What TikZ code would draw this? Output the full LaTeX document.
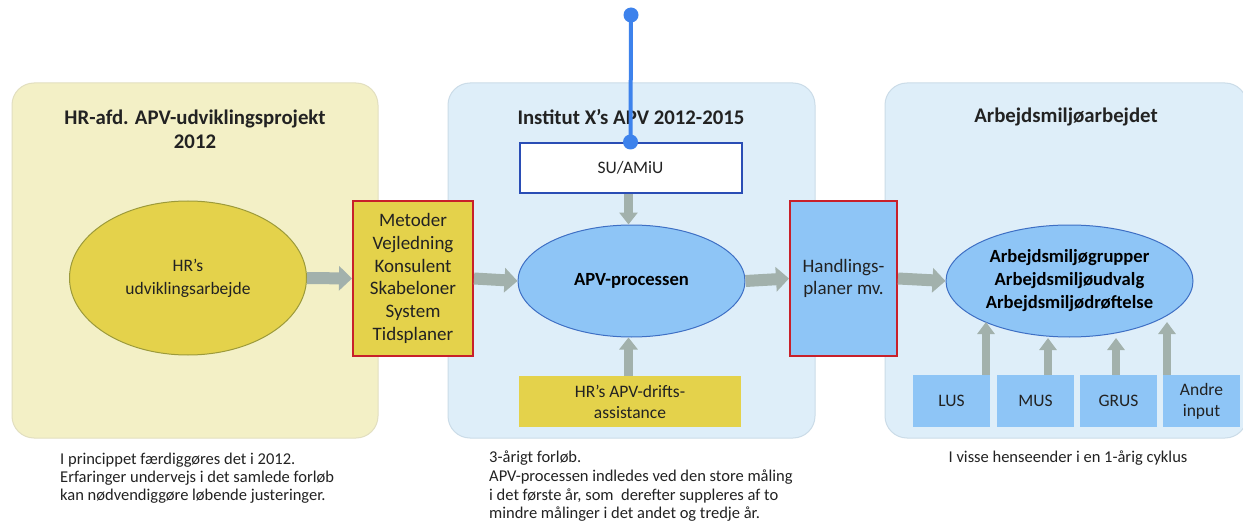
\documentclass[tikz,border=0pt]{standalone}
\usepackage{fontspec}
\setmainfont{Carlito}
\usetikzlibrary{shapes.geometric,arrows.meta}
\definecolor{panelyellow}{HTML}{F3F0C6}
\definecolor{panelyellowline}{HTML}{E2DFC0}
\definecolor{panelblue}{HTML}{DEEEF9}
\definecolor{panelblueline}{HTML}{CBDCE8}
\definecolor{boxyellow}{HTML}{E4D24B}
\definecolor{olive}{HTML}{9C9A3A}
\definecolor{boxblue}{HTML}{8EC5F6}
\definecolor{ellblue}{HTML}{3E6FC4}
\definecolor{redline}{HTML}{C8202A}
\definecolor{arrowgray}{HTML}{A2B1AC}
\definecolor{suline}{HTML}{2A4DB5}
\definecolor{lineblue}{HTML}{3D82EC}
\definecolor{txt}{HTML}{222222}
\tikzset{
  panel/.style={draw, line width=1pt, rounded corners=22pt, inner sep=0pt},
  titletext/.style={text=txt, align=center, font=\fontsize{20.8}{24}\selectfont\bfseries},
  body/.style={text=txt, align=center, font=\fontsize{17.5}{22.7}\selectfont},
  bigbody/.style={text=txt, align=center, font=\fontsize{19}{22.7}\selectfont},
  boldbody/.style={text=black, align=center, font=\fontsize{18.6}{23}\selectfont\bfseries},
  note/.style={text=txt, align=left, font=\fontsize{16.5}{18}\selectfont, inner sep=0pt},
  bigarrow/.style={draw=arrowgray, line width=12pt, -{Triangle[width=24pt,length=13pt]}},
  midarrow/.style={draw=arrowgray, line width=9pt, -{Triangle[width=18pt,length=12pt]}},
  smallarrow/.style={draw=arrowgray, line width=8pt, -{Triangle[width=17pt,length=12pt]}},
  redbox/.style={draw=redline, line width=2pt, inner sep=0pt},
  flatbox/.style={inner sep=0pt},
  ell/.style={ellipse, line width=1pt, inner sep=0pt},
}
\begin{document}
\begin{tikzpicture}[x=1pt,y=-1pt]
\useasboundingbox (0,0) rectangle (1243,524);
\fill[white] (0,0) rectangle (1243,524);

% panels
\node[panel, draw=panelyellowline, fill=panelyellow, minimum width=366pt, minimum height=355pt] (p1) at (195,260.5) {};
\node[panel, draw=panelblueline, fill=panelblue, minimum width=367pt, minimum height=355pt] (p2) at (631.5,260.5) {};
\node[panel, draw=panelblueline, fill=panelblue, minimum width=362pt, minimum height=355pt] (p3) at (1066,260.5) {};

% titles
\node[titletext] (t1) at (195,129) {HR-afd. APV-udviklingsprojekt\\2012};
\node[titletext] (t2) at (631,117) {Institut X’s APV 2012-2015};
\node[titletext] (t3) at (1066,117) {Arbejdsmiljøarbejdet};

% left ellipse
\node[ell, draw=olive, fill=boxyellow, minimum width=237pt, minimum height=154pt, body] (hr) at (188,278) {HR’s\\udviklingsarbejde};

% Metoder box
\node[redbox, fill=boxyellow, minimum width=120pt, minimum height=154pt, bigbody] (met) at (413,278.5) {Metoder\\Vejledning\\Konsulent\\Skabeloner\\System\\Tidsplaner};

% APV ellipse
\node[ell, draw=ellblue, fill=boxblue, minimum width=227pt, minimum height=112pt, boldbody] (apv) at (631.5,281) {APV-processen};

% SU box
\node[draw=suline, line width=2pt, fill=white, minimum width=222pt, minimum height=50pt, inner sep=0pt, body] (su) at (630.5,168) {SU/AMiU};

% HR drift box
\node[flatbox, fill=boxyellow, minimum width=222pt, minimum height=51pt, body, font=\fontsize{17.5}{21}\selectfont] (drift) at (630,401.5) {HR’s APV-drifts-\\assistance};

% Handlings box
\node[redbox, fill=boxblue, minimum width=107pt, minimum height=154pt, bigbody] (hand) at (843.5,278.5) {Handlings-\\planer mv.};

% right ellipse
\node[ell, draw=ellblue, fill=boxblue, minimum width=247pt, minimum height=112pt, boldbody] (arb) at (1069.5,281) {Arbejdsmiljøgrupper\\Arbejdsmiljøudvalg\\Arbejdsmiljødrøftelse};

% bottom boxes
\node[flatbox, fill=boxblue, minimum width=77pt, minimum height=52pt, body] (lus) at (951.5,401) {LUS};
\node[flatbox, fill=boxblue, minimum width=77pt, minimum height=52pt, body] (mus) at (1035.5,401) {MUS};
\node[flatbox, fill=boxblue, minimum width=77pt, minimum height=52pt, body] (grus) at (1118.5,401) {GRUS};
\node[flatbox, fill=boxblue, minimum width=77pt, minimum height=52pt, body, font=\fontsize{17.5}{21}\selectfont] (andre) at (1201.5,401) {Andre\\input};

% horizontal arrows
\draw[bigarrow] (hr.east) -- (met.west);
\draw[bigarrow] (met.east) -- (apv.west);
\draw[bigarrow] (apv.east) -- (hand.west);
\draw[bigarrow] (hand.east) -- (arb.west);

% vertical arrows in middle panel
\draw[midarrow] (su.south -| apv.north) ++(-3,0) coordinate (sus) -- (sus |- apv.north);
\draw[midarrow] (drift.north -| apv.south) ++(-3,0) coordinate (drn) -- (drn |- apv.south);

% arrows from bottom boxes
\coordinate (a1) at (986,322);
\coordinate (a2) at (1048,338);
\coordinate (a3) at (1116,338);
\coordinate (a4) at (1167,322);
\draw[smallarrow] (lus.north -| a1) -- (a1);
\draw[smallarrow] (mus.north -| a2) -- (a2);
\draw[smallarrow] (grus.north -| a3) -- (a3);
\draw[smallarrow] (andre.north -| a4) -- (a4);

% blue line with dots
\coordinate (topdot) at (631,15);
\draw[lineblue, line width=4pt] (topdot) -- (su.north);
\fill[lineblue] (topdot) circle (7.5);
\fill[lineblue] (su.north) circle (7.5);

% notes
\node[note, anchor=north west] (n1) at (60,453) {I princippet færdiggøres det i 2012.\\Erfaringer undervejs i det samlede forløb\\kan nødvendiggøre løbende justeringer.};
\node[note, anchor=north west, font=\fontsize{16.5}{18.6}\selectfont] (n2) at (489,451) {3-årigt forløb.\\APV-processen indledes ved den store måling\\i det første år, som~ derefter suppleres af to\\mindre målinger i det andet og tredje år.};
\node[note, anchor=north, align=center] (n3) at (1068,451) {I visse henseender i en 1-årig cyklus};
\end{tikzpicture}
\end{document}
